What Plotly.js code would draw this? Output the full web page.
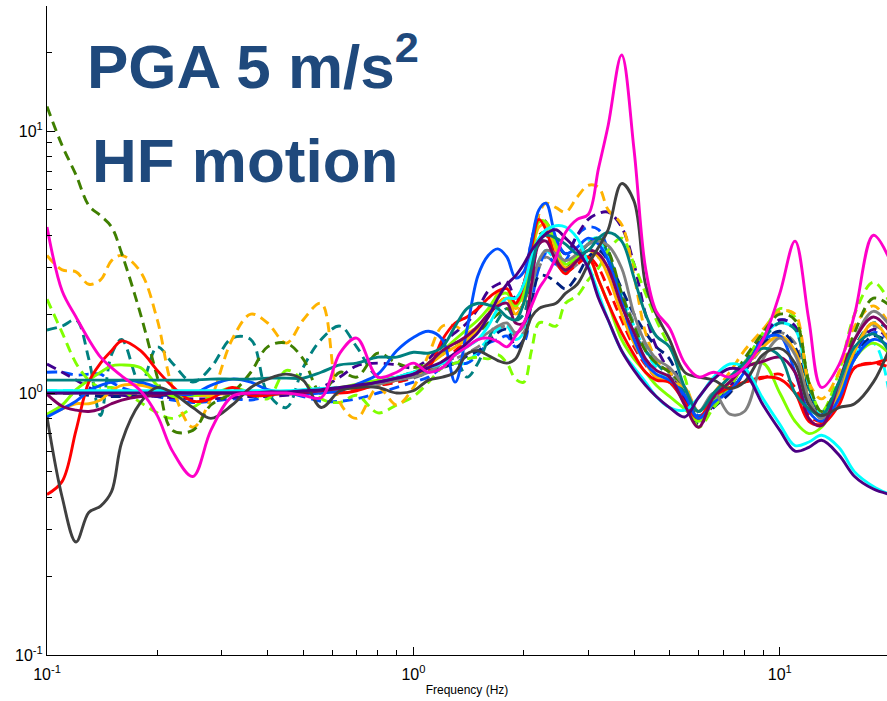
<!DOCTYPE html>
<html>
<head>
<meta charset="utf-8">
<script src="https://cdn.plot.ly/plotly-3.0.1.min.js"></script>
<style>html,body{margin:0;padding:0;background:#fff;}#chart{width:887px;height:701px;}</style>
</head>
<body>
<div id="chart"></div>
<script>
// Frequency grid (Hz)
const freq = [0.1,0.11,0.12,0.13,0.14,0.15,0.16,0.18,0.2,0.22,
  0.25,0.28,0.32,0.36,0.4,0.45,0.5,0.56,0.63,0.7,
  0.8,0.9,1.0,1.1,1.2,1.3,1.4,1.5,1.6,1.7,
  1.8,1.9,2.0,2.1,2.2,2.3,2.45,2.6,2.8,3.0,
  3.2,3.4,3.7,4.0,4.3,4.6,5.0,5.5,6.0,6.6,
  7.3,8.0,9.0,10,11,12,13,14.5,16,18,20];

// Dashed series
const grayDashed = [1.0,1.0,0.99,0.99,0.99,0.99,0.99,0.99,0.99,0.99,
  0.99,0.99,0.99,0.99,0.99,0.99,0.99,1.0,1.02,1.04,
  1.07,1.1,1.14,1.2,1.28,1.35,1.42,1.5,1.6,1.75,
  1.8,1.65,1.7,2.3,3.0,3.3,3.1,2.9,3.1,3.3,
  3.3,2.85,2.35,1.85,1.5,1.3,1.2,1.0,0.82,0.9,
  1.0,1.2,1.5,1.7,1.55,1.0,0.82,1.0,1.45,1.8,1.65];
const cyanDashed = [1.02,1.02,1.02,1.02,1.01,1.01,1.01,1.0,1.0,1.0,
  1.0,1.0,1.0,1.0,1.0,1.01,1.02,1.03,1.04,1.05,
  1.08,1.12,1.16,1.22,1.3,1.3,1.3,1.45,1.6,1.75,
  1.8,1.6,1.7,2.4,3.2,3.5,3.2,3.0,3.4,3.8,
  3.9,3.3,2.4,1.8,1.45,1.25,1.1,0.95,0.8,0.92,
  1.05,1.3,1.65,1.85,1.75,1.05,0.82,0.98,1.4,1.55,0.95];
const redDashed = [1.0,1.0,1.0,1.0,1.0,1.0,1.0,1.0,1.0,1.0,
  1.0,1.0,1.0,1.0,1.0,1.0,1.0,1.01,1.02,1.04,
  1.07,1.1,1.15,1.22,1.32,1.45,1.6,1.75,1.95,2.2,
  2.3,2.0,2.2,3.0,3.8,4.0,3.3,2.9,3.1,3.3,
  3.0,2.5,1.9,1.5,1.28,1.15,1.1,0.95,0.8,0.95,
  1.05,1.1,1.14,1.18,1.05,0.82,0.78,0.95,1.25,1.3,1.25];
const blueDashed = [1.2,1.2,1.17,1.18,1.18,1.1,1.05,1.0,0.97,0.94,
  0.92,0.93,0.95,0.94,0.97,1.0,0.97,0.93,0.93,0.95,
  1.0,1.05,1.1,1.15,1.25,1.3,1.3,1.4,1.55,1.6,
  1.65,1.5,1.55,2.2,3.0,3.4,3.1,3.2,4.0,4.3,
  4.2,3.5,2.3,1.55,1.3,1.15,1.1,0.95,0.82,0.9,
  1.05,1.3,1.65,1.9,1.8,1.1,0.82,1.0,1.4,1.7,1.6];
const navyDashed = [1.0,1.0,0.99,0.98,0.97,0.97,0.97,0.97,0.98,0.98,
  0.98,0.99,1.0,1.0,1.0,1.0,1.01,1.02,1.04,1.06,
  1.09,1.12,1.15,1.2,1.25,1.3,1.38,1.45,1.55,1.7,
  1.75,1.5,1.6,2.2,2.8,2.8,2.65,2.5,2.8,3.3,
  3.5,3.2,2.5,2.0,1.7,1.5,1.35,0.97,0.76,0.88,
  1.0,1.2,1.55,1.72,1.5,0.98,0.8,0.98,1.35,1.65,1.55];
const indigoDashed = [1.29,1.2,1.12,1.05,1.0,0.98,0.98,0.97,0.97,0.96,
  0.95,0.95,0.96,0.97,0.97,0.98,1.0,1.05,1.15,1.27,
  1.3,1.28,1.25,1.35,1.55,1.7,1.85,2.1,2.45,2.6,
  2.65,2.3,2.6,3.8,4.7,4.5,3.8,3.4,4.0,4.6,
  4.85,4.9,4.3,3.1,2.0,1.5,1.2,0.95,0.78,0.9,
  1.05,1.3,1.65,1.9,1.8,1.1,0.83,1.0,1.45,1.75,1.6];
const tealDashed = [1.74,1.8,1.9,1.35,0.82,1.4,1.6,1.08,1.5,1.3,
  1.1,1.25,1.62,1.6,1.0,0.88,1.25,1.6,1.8,1.5,
  1.15,1.15,1.2,1.2,1.3,1.35,1.15,1.3,1.6,1.9,
  2.1,1.9,2.0,2.8,3.7,3.9,3.3,2.9,3.3,3.7,
  3.9,3.4,2.3,1.7,1.45,1.3,1.15,1.0,0.8,0.95,
  1.1,1.3,1.6,1.85,1.75,1.05,0.85,1.05,1.5,1.85,1.75];
const lightGreenDashed = [2.28,1.7,1.3,1.12,1.05,1.05,1.02,0.92,0.84,0.8,
  0.88,0.97,1.05,1.0,0.95,1.22,1.12,0.95,0.92,0.98,
  0.84,0.9,0.97,1.1,1.25,1.3,1.35,1.37,1.35,1.4,
  1.3,1.13,1.1,1.45,1.85,1.85,1.8,2.2,2.35,2.7,
  3.0,3.5,3.9,3.1,2.4,1.9,1.5,1.15,0.74,0.88,
  1.05,1.3,1.7,2.1,1.95,1.1,0.85,1.2,2.0,2.65,2.2];
const orangeDashed = [3.35,2.95,2.9,2.6,2.7,3.2,3.35,2.9,1.9,1.05,
  0.74,0.95,1.6,2.0,1.85,1.55,1.9,2.2,0.92,0.8,
  1.05,0.9,1.05,1.4,1.8,1.8,1.7,1.8,2.0,2.4,
  2.5,2.1,2.3,3.6,4.8,5.3,5.1,4.9,5.6,6.2,
  6.1,5.0,4.4,2.8,1.7,1.35,1.2,1.05,0.85,1.0,
  1.2,1.45,1.75,2.05,2.0,1.1,0.95,1.2,1.8,2.15,1.8];
const darkGreenDashed = [12.4,8.8,6.8,5.2,4.75,4.3,3.4,2.0,1.15,0.72,
  0.72,0.9,1.0,1.2,1.5,1.55,1.35,1.0,1.2,1.15,
  1.42,1.3,1.25,1.3,1.4,1.55,1.6,1.7,1.85,2.0,
  2.1,2.0,2.2,3.0,4.0,4.1,3.5,3.0,3.3,3.7,
  3.9,3.5,2.4,1.8,1.45,1.3,1.2,1.05,0.8,0.95,
  1.1,1.35,1.7,2.0,1.9,1.1,0.85,1.1,1.7,2.3,2.15];

// Solid series
const orangeSolid = [0.82,0.87,0.91,0.91,0.94,1.02,1.07,1.07,1.03,1.0,
  0.98,0.98,1.0,1.0,1.0,1.01,1.02,1.03,1.03,1.05,
  1.08,1.12,1.18,1.28,1.4,1.5,1.6,1.75,1.95,2.2,
  2.3,2.0,2.2,3.2,4.3,4.4,3.5,3.0,3.2,3.5,
  3.3,2.8,2.0,1.55,1.3,1.15,1.1,1.05,0.85,0.98,
  1.1,1.25,1.5,1.65,1.45,0.95,0.8,1.0,1.45,1.85,1.55];
const lightGreenSolid = [0.83,0.9,1.03,1.12,1.2,1.27,1.28,1.25,1.07,0.97,
  0.98,1.0,1.0,1.0,0.99,1.0,1.02,1.03,1.05,1.08,
  1.12,1.15,1.2,1.3,1.45,1.6,1.75,1.9,2.1,2.35,
  2.4,2.15,2.4,3.4,4.5,4.5,3.7,3.1,3.3,3.3,
  2.7,2.2,1.6,1.35,1.2,1.07,0.97,0.87,0.78,0.92,
  1.1,1.25,1.3,1.0,0.78,0.7,0.74,0.95,1.35,1.55,1.4];
const redSolid = [0.41,0.46,0.72,1.1,1.3,1.45,1.58,1.45,1.22,1.06,
  0.93,0.95,1.05,0.98,0.98,1.0,1.0,1.02,1.0,1.02,
  1.08,1.12,1.2,1.25,1.6,1.85,1.95,2.1,2.3,2.45,
  2.5,2.2,2.6,3.6,4.6,4.2,3.2,2.85,3.2,3.3,
  2.7,2.2,1.7,1.4,1.2,1.12,1.1,0.92,0.8,0.97,
  1.05,1.1,1.15,1.13,1.0,0.78,0.76,0.9,1.25,1.3,1.35];
const blueSolid = [0.81,0.87,0.93,1.02,1.07,1.1,1.12,1.1,1.05,1.0,
  0.99,1.07,1.13,1.1,1.03,1.0,0.99,1.0,1.02,1.08,
  1.18,1.45,1.63,1.72,1.6,1.1,1.75,2.8,3.35,3.55,
  3.3,2.75,2.9,3.8,5.0,5.3,3.9,3.4,3.6,3.9,
  3.7,3.2,2.2,1.6,1.3,1.18,1.12,0.98,0.8,0.92,
  1.02,1.2,1.6,1.65,1.2,0.85,0.78,0.95,1.35,1.6,1.5];
const graySolid = [1.0,1.0,1.0,1.0,1.0,1.0,1.0,1.0,1.0,1.0,
  1.0,1.0,1.0,1.0,1.0,1.0,1.01,1.02,1.04,1.06,
  1.08,1.12,1.15,1.2,1.3,1.4,1.5,1.6,1.7,1.8,
  1.85,1.7,1.8,2.5,3.2,3.5,3.4,3.2,3.4,3.7,
  3.8,3.65,3.0,2.0,1.55,1.35,1.25,1.05,0.85,1.0,
  0.83,0.85,1.35,1.62,1.4,0.95,0.8,1.05,1.6,2.05,1.8];
const cyanSolid = [1.02,1.02,1.02,1.02,1.02,1.02,1.02,1.02,1.02,1.02,
  1.02,1.02,1.02,1.02,1.02,1.02,1.03,1.04,1.05,1.06,
  1.1,1.15,1.2,1.25,1.3,1.4,1.5,1.6,1.8,2.1,
  2.3,2.3,2.6,3.3,3.9,4.2,4.35,4.3,3.9,3.1,
  2.4,1.9,1.45,1.25,1.1,0.97,0.88,0.86,0.96,1.15,
  1.29,1.25,0.95,0.76,0.63,0.65,0.69,0.62,0.5,0.44,0.41];
const wineSolid = [0.99,0.89,0.86,0.85,0.87,0.91,0.94,0.97,0.98,1.0,
  1.0,1.0,1.0,1.0,1.0,1.0,1.0,1.02,1.04,1.06,
  1.1,1.14,1.18,1.3,1.45,1.55,1.65,1.8,2.0,2.15,
  2.2,1.85,1.85,2.6,3.7,3.8,3.2,2.95,3.2,3.5,
  3.4,3.0,2.15,1.7,1.35,1.22,1.15,0.9,0.74,0.97,
  1.1,1.25,1.32,1.37,1.2,0.8,0.75,1.1,1.6,1.95,1.7];
const tealSolid = [1.12,1.12,1.12,1.12,1.12,1.12,1.12,1.12,1.12,1.12,
  1.12,1.13,1.13,1.13,1.14,1.14,1.14,1.2,1.28,1.3,
  1.37,1.37,1.43,1.42,1.5,1.8,2.1,2.2,2.17,2.1,
  1.95,1.9,2.2,3.0,3.8,4.0,3.9,3.7,3.4,3.5,
  3.9,4.1,3.8,2.75,2.0,1.65,1.5,1.05,0.85,1.0,
  1.15,1.3,1.48,1.38,1.0,0.87,0.82,1.1,1.5,1.68,1.42];
const darkGraySolid = [0.81,0.4,0.27,0.35,0.37,0.42,0.65,0.92,1.05,1.0,
  0.88,0.8,0.9,1.05,1.13,1.18,1.12,0.88,1.02,1.05,
  1.05,1.0,1.02,1.12,1.15,1.2,1.41,1.45,1.39,1.33,
  1.3,1.35,1.6,1.95,2.1,2.15,2.2,2.4,2.6,3.1,
  3.6,4.2,6.3,5.4,2.6,2.0,1.6,1.2,1.15,1.12,
  1.04,1.1,1.4,1.48,1.3,0.9,0.82,0.88,0.91,1.1,1.5];
const indigoSolid = [1.0,1.0,1.0,1.0,1.0,1.0,1.0,1.0,1.0,1.0,
  1.0,1.0,1.0,1.0,1.01,1.01,1.02,1.03,1.05,1.07,
  1.1,1.14,1.18,1.25,1.32,1.42,1.55,1.7,1.95,2.3,
  2.6,2.8,3.1,3.5,3.8,4.05,4.2,3.9,3.5,3.0,
  2.3,1.9,1.45,1.22,1.07,0.97,0.88,0.81,0.96,1.13,
  1.24,1.2,0.9,0.72,0.6,0.62,0.66,0.58,0.48,0.43,0.41];
const magentaSolid = [4.3,2.45,1.95,1.6,1.37,1.25,1.16,1.02,0.82,0.6,
  0.48,0.72,0.97,1.0,1.0,1.0,0.98,0.96,1.42,1.62,
  1.15,1.2,1.3,1.2,1.25,1.4,1.5,1.6,1.62,1.57,
  1.5,1.65,1.85,2.15,2.5,2.75,3.3,4.1,4.6,4.8,
  7.2,10.5,19.5,8.5,3.0,2.05,1.77,1.3,1.15,1.2,
  1.15,1.25,1.6,2.4,3.8,1.9,1.05,1.28,2.0,4.0,3.2];

const series = [
  {y: grayDashed, color: '#808080', dash: true},
  {y: cyanDashed, color: '#00ffff', dash: true},
  {y: redDashed, color: '#ff0000', dash: true},
  {y: blueDashed, color: '#0050ff', dash: true},
  {y: navyDashed, color: '#00207f', dash: true},
  {y: indigoDashed, color: '#400090', dash: true},
  {y: tealDashed, color: '#008080', dash: true},
  {y: lightGreenDashed, color: '#80ff00', dash: true},
  {y: orangeDashed, color: '#ffb300', dash: true},
  {y: darkGreenDashed, color: '#3f7f00', dash: true},
  {y: orangeSolid, color: '#ffb300', dash: false},
  {y: lightGreenSolid, color: '#80ff00', dash: false},
  {y: redSolid, color: '#ff0000', dash: false},
  {y: blueSolid, color: '#0050ff', dash: false},
  {y: graySolid, color: '#808080', dash: false},
  {y: cyanSolid, color: '#00ffff', dash: false},
  {y: wineSolid, color: '#800060', dash: false},
  {y: tealSolid, color: '#008080', dash: false},
  {y: darkGraySolid, color: '#404040', dash: false},
  {y: indigoSolid, color: '#4b0082', dash: false},
  {y: magentaSolid, color: '#ff00c8', dash: false}
];

const data = series.map(s => ({
  x: freq, y: s.y, type: 'scatter', mode: 'lines', hoverinfo: 'skip',
  line: {color: s.color, width: 2.9, shape: 'spline', smoothing: 1, dash: s.dash ? '10px,6px' : 'solid'}
}));

const font = 'Liberation Sans, Arial, Helvetica, sans-serif';
const xMinor = [0.2,0.3,0.4,0.5,0.6,0.7,0.8,0.9,2,3,4,5,6,7,8,9];
const yMinor = [0.2,0.3,0.4,0.5,0.6,0.7,0.8,0.9,2,3,4,5,6,7,8,9,20,30];

const layout = {
  width: 887, height: 701,
  margin: {l: 47, r: 0, t: 6, b: 46},
  paper_bgcolor: '#fff', plot_bgcolor: '#fff',
  showlegend: false,
  xaxis: {
    type: 'log', range: [-1, 1.2925],
    showgrid: false, zeroline: false,
    showline: true, linecolor: '#000', linewidth: 1, mirror: false,
    ticks: 'inside', ticklen: 8, tickcolor: '#000', tickwidth: 1,
    tickvals: [0.1, 1, 10], ticktext: ['10<sup>-1</sup>', '10<sup>0</sup>', '10<sup>1</sup>'],
    tickfont: {family: font, size: 16, color: '#000'},
    ticklabelstandoff: 5,
    minor: {tickvals: xMinor, ticks: 'inside', ticklen: 5, tickcolor: '#000', tickwidth: 1, showgrid: false},
    title: {text: 'Frequency (Hz)', font: {family: font, size: 12, color: '#000'}, standoff: 3}
  },
  yaxis: {
    type: 'log', range: [-1, 1.4771],
    showgrid: false, zeroline: false,
    showline: true, linecolor: '#000', linewidth: 1, mirror: false,
    ticks: 'inside', ticklen: 8, tickcolor: '#000', tickwidth: 1,
    tickvals: [0.1, 1, 10], ticktext: ['10<sup>-1</sup>', '10<sup>0</sup>', '10<sup>1</sup>'],
    tickfont: {family: font, size: 16, color: '#000'},
    minor: {tickvals: yMinor, ticks: 'inside', ticklen: 5, tickcolor: '#000', tickwidth: 1, showgrid: false}
  },
  annotations: [
    {xref: 'paper', yref: 'paper', x: (85 - 47) / 840, y: (655 - 62) / 649, xanchor: 'left', yanchor: 'middle',
     text: '<b>PGA 5 m/s<sup>2</sup></b>', showarrow: false,
     font: {family: font, size: 62, color: '#1f497c'}},
    {xref: 'paper', yref: 'paper', x: (90 - 47) / 840, y: (655 - 160) / 649, xanchor: 'left', yanchor: 'middle',
     text: '<b>HF motion</b>', showarrow: false,
     font: {family: font, size: 62, color: '#1f497c'}}
  ]
};

Plotly.newPlot('chart', data, layout, {displayModeBar: false, staticPlot: true});
</script>
</body>
</html>
